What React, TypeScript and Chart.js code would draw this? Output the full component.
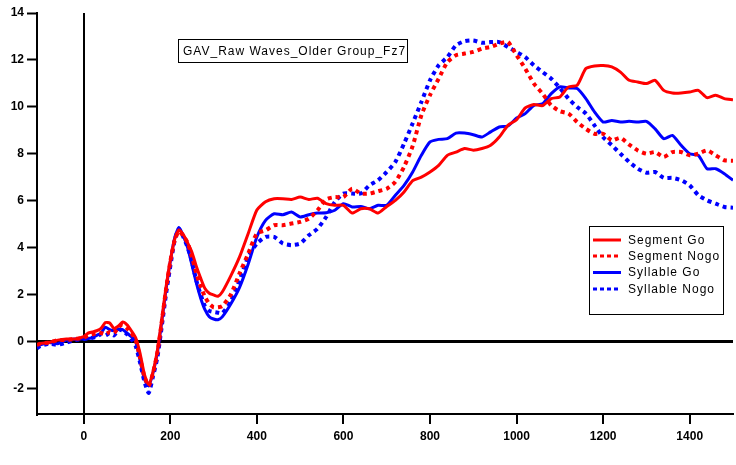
import React, { useEffect, useRef } from "react";
import { Chart, registerables } from "chart.js";

Chart.register(...registerables);

const TITLE = "GAV_Raw Waves_Older Group_Fz7";

const times = [
  -108, -100, -80, -60, -40, -20, 0, 10, 20, 30, 40, 50, 60, 70, 80, 90, 100, 110, 120, 130, 140, 150,
  160, 170, 180, 190, 200, 210, 220, 230, 240, 250, 260, 270, 280, 290, 300, 310, 320, 340, 360, 380,
  400, 420, 440, 460, 480, 500, 520, 540, 560, 580, 600, 620, 640, 660, 680, 700, 720, 740, 760, 780,
  800, 820, 840, 860, 880, 900, 920, 940, 960, 980, 1000, 1020, 1040, 1060, 1080, 1100, 1120, 1140,
  1160, 1180, 1200, 1220, 1240, 1260, 1280, 1300, 1320, 1340, 1360, 1380, 1400, 1420, 1440, 1460, 1480,
  1500,
];

const segmentGo = [
  -0.15, -0.1, -0.05, 0.05, 0.1, 0.1, 0.2, 0.35, 0.4, 0.45, 0.55, 0.8, 0.78, 0.55, 0.65, 0.82, 0.7, 0.45,
  0.15, -0.5, -1.4, -1.85, -1.3, -0.4, 0.9, 2.3, 3.45, 4.35, 4.75, 4.55, 4.2, 3.8, 3.2, 2.7, 2.25, 2.05,
  1.98, 1.92, 2.1, 2.8, 3.6, 4.6, 5.6, 5.95, 6.08, 6.08, 6.05, 6.15, 6.05, 6.1, 5.87, 5.8, 5.8, 5.47, 5.65,
  5.65, 5.47, 5.75, 6.01, 6.37, 6.85, 7.0, 7.22, 7.5, 7.93, 8.07, 8.22, 8.15, 8.22, 8.36, 8.71, 9.21, 9.45,
  9.95, 10.1, 10.05, 10.35, 10.42, 10.85, 10.92, 11.63, 11.74, 11.76, 11.7, 11.48, 11.13, 11.06, 10.99,
  11.13, 10.7, 10.59, 10.59, 10.63, 10.7, 10.39, 10.49, 10.35, 10.3,
];

const segmentNogo = [
  -0.15, -0.1, -0.05, 0.05, 0.05, 0.1, 0.15, 0.25, 0.3, 0.35, 0.35, 0.3, 0.4, 0.35, 0.6, 0.7, 0.55, 0.35,
  0.05, -0.7, -1.5, -1.9, -1.35, -0.5, 0.8, 2.2, 3.4, 4.3, 4.7, 4.5, 4.2, 3.6, 2.9, 2.35, 1.9, 1.6, 1.45,
  1.45, 1.5, 2.0, 2.9, 3.74, 4.6, 4.73, 4.95, 4.95, 5.02, 5.09, 5.23, 5.59, 6.05, 6.15, 6.15, 6.51, 6.3,
  6.3, 6.4, 6.51, 6.8, 7.44, 8.33, 9.64, 10.5, 11.2, 11.9, 12.2, 12.27, 12.34, 12.48, 12.55, 12.69, 12.76,
  12.2, 11.63, 10.99, 10.56, 10.06, 9.81, 9.71, 9.35, 9.06, 8.85, 8.85, 8.57, 8.68, 8.39, 8.14, 8.0, 8.07,
  7.86, 8.07, 8.07, 7.93, 8.0, 8.14, 7.93, 7.72, 7.7,
];

const syllableGo = [
  -0.2, -0.15, -0.05, -0.1, 0.05, 0.1, 0.1, 0.12, 0.15, 0.25, 0.35, 0.6, 0.5, 0.45, 0.5, 0.5, 0.35, 0.2,
  0.0, -0.8, -1.6, -1.9, -1.35, -0.5, 0.8, 2.2, 3.4, 4.4, 4.85, 4.5, 4.0, 3.25, 2.5, 1.85, 1.35, 1.05,
  0.95, 0.92, 1.04, 1.6, 2.3, 3.3, 4.45, 5.16, 5.44, 5.4, 5.51, 5.3, 5.4, 5.47, 5.48, 5.59, 5.87, 5.73,
  5.75, 5.65, 5.8, 5.8, 6.23, 6.65, 7.22, 7.93, 8.5, 8.61, 8.64, 8.88, 8.88, 8.81, 8.71, 8.93, 9.14, 9.18,
  9.52, 9.71, 10.06, 10.13, 10.56, 10.85, 10.8, 10.78, 10.35, 9.78, 9.35, 9.42, 9.35, 9.38, 9.35, 9.38,
  9.06, 8.64, 8.78, 8.36, 8.0, 7.93, 7.36, 7.36, 7.15, 6.87,
];

const syllableNogo = [
  -0.3, -0.2, -0.1, -0.15, -0.05, 0.05, 0.1, 0.12, 0.15, 0.2, 0.3, 0.25, 0.35, 0.25, 0.5, 0.45, 0.3, 0.1,
  -0.2, -0.9, -1.7, -2.2, -1.5, -0.7, 0.6, 2.0, 3.2, 4.3, 4.8, 4.45, 4.0, 3.4, 2.6, 2.0, 1.5, 1.3, 1.25,
  1.22, 1.2, 1.7, 2.6, 3.6, 4.17, 4.45, 4.45, 4.17, 4.1, 4.17, 4.52, 4.8, 5.3, 5.94, 6.3, 6.3, 6.3, 6.65,
  6.87, 7.22, 7.65, 8.43, 9.3, 10.2, 11.13, 11.77, 12.12, 12.62, 12.8, 12.83, 12.73, 12.76, 12.76, 12.55,
  12.34, 12.12, 11.77, 11.48, 11.2, 10.8, 10.35, 9.99, 9.71, 9.21, 8.7, 8.36, 8.0, 7.65, 7.36, 7.19, 7.22,
  6.97, 6.97, 6.87, 6.65, 6.23, 6.01, 5.87, 5.73, 5.7,
];

const seriesLabels = ["Segment Go", "Segment Nogo", "Syllable Go", "Syllable Nogo"];
const xTickValues = [0, 200, 400, 600, 800, 1000, 1200, 1400];
const yTickValues = [-2, 0, 2, 4, 6, 8, 10, 12, 14];

const RED = "#ff0000";
const BLUE = "#0000ff";
const FONT = '"Liberation Sans", Arial, Helvetica, sans-serif';

const overlayPlugin = {
  id: "overlay",
  afterDraw(chart: any) {
    const ctx = chart.ctx as CanvasRenderingContext2D;
    ctx.save();
    // Title box
    ctx.font = `12px ${FONT}`;
    (ctx as any).letterSpacing = "1px";
    ctx.fillStyle = "#000";
    ctx.textBaseline = "middle";
    ctx.textAlign = "left";
    ctx.strokeStyle = "#000";
    ctx.lineWidth = 1;
    ctx.strokeRect(178.5, 39.5, 229, 23);
    ctx.fillText(TITLE, 183, 51.5);

    // Legend box
    ctx.fillStyle = "#fff";
    ctx.fillRect(589, 226, 135, 89);
    ctx.strokeRect(589.5, 226.5, 134, 88);
    const rows = [240, 256, 272.5, 289];
    chart.data.datasets.forEach((ds: any, i: number) => {
      const y = rows[i];
      ctx.beginPath();
      ctx.strokeStyle = ds.borderColor;
      ctx.lineWidth = 3;
      ctx.setLineDash(ds.borderDash && ds.borderDash.length ? [4, 3] : []);
      ctx.moveTo(593, y);
      ctx.lineTo(621, y);
      ctx.stroke();
      ctx.setLineDash([]);
      ctx.fillStyle = "#000";
      ctx.fillText(ds.label, 628, y + 0.5);
    });
    ctx.restore();
  },
};

export default function App() {
  const ref = useRef<HTMLCanvasElement | null>(null);

  useEffect(() => {
    if (!ref.current) return;
    const mk = (vals: number[]) => times.map((t, i) => ({ x: t, y: vals[i] }));
    const dashed = [4, 4];
    const chart = new Chart(ref.current, {
      type: "line",
      data: {
        datasets: [
          { label: seriesLabels[0], data: mk(segmentGo), borderColor: RED, borderWidth: 3, borderDash: [] },
          { label: seriesLabels[1], data: mk(segmentNogo), borderColor: RED, borderWidth: 4, borderDash: dashed },
          { label: seriesLabels[2], data: mk(syllableGo), borderColor: BLUE, borderWidth: 3, borderDash: [] },
          { label: seriesLabels[3], data: mk(syllableNogo), borderColor: BLUE, borderWidth: 4, borderDash: dashed },
        ].map((d) => ({ ...d, pointRadius: 0, tension: 0.2, fill: false, borderCapStyle: "butt" as const })),
      },
      options: {
        animation: false,
        responsive: true,
        maintainAspectRatio: false,
        layout: { padding: { top: 13, right: 3, left: 0, bottom: 0 } },
        plugins: { legend: { display: false }, tooltip: { enabled: false }, title: { display: false } },
        scales: {
          x: {
            type: "linear",
            min: -108,
            max: 1500,
            afterBuildTicks: (s: any) => {
              s.ticks = xTickValues.map((v) => ({ value: v }));
            },
            afterFit: (s: any) => {
              s.height = 51;
            },
            border: { display: true, color: "#000", width: 2 },
            grid: {
              color: (c: any) => (c.tick && c.tick.value === 0 ? "#000" : "rgba(0,0,0,0)"),
              lineWidth: 2,
              tickColor: "#000",
              tickWidth: 2,
              tickLength: 10,
              drawTicks: true,
            },
            ticks: {
              color: "#000",
              font: { family: FONT, size: 12, weight: "bold" },
              padding: 5,
              maxRotation: 0,
              callback: (v: any) => String(v),
            },
          },
          y: {
            type: "linear",
            min: -3.1,
            max: 14,
            afterBuildTicks: (s: any) => {
              s.ticks = yTickValues.map((v) => ({ value: v }));
            },
            afterFit: (s: any) => {
              s.width = 37;
            },
            border: { display: true, color: "#000", width: 2 },
            grid: {
              color: (c: any) => (c.tick && c.tick.value === 0 ? "#000" : "rgba(0,0,0,0)"),
              lineWidth: 3,
              tickColor: "#000",
              tickWidth: 2,
              tickLength: 10,
              drawTicks: true,
            },
            ticks: {
              color: "#000",
              font: { family: FONT, size: 12, weight: "bold" },
              padding: 3,
              callback: (v: any) => String(v),
            },
          },
        },
      },
      plugins: [overlayPlugin],
    });
    return () => chart.destroy();
  }, []);

  return (
    <div style={{ position: "absolute", left: 0, top: 0, width: 736, height: 465, background: "#fff" }}>
      <canvas ref={ref} />
    </div>
  );
}
